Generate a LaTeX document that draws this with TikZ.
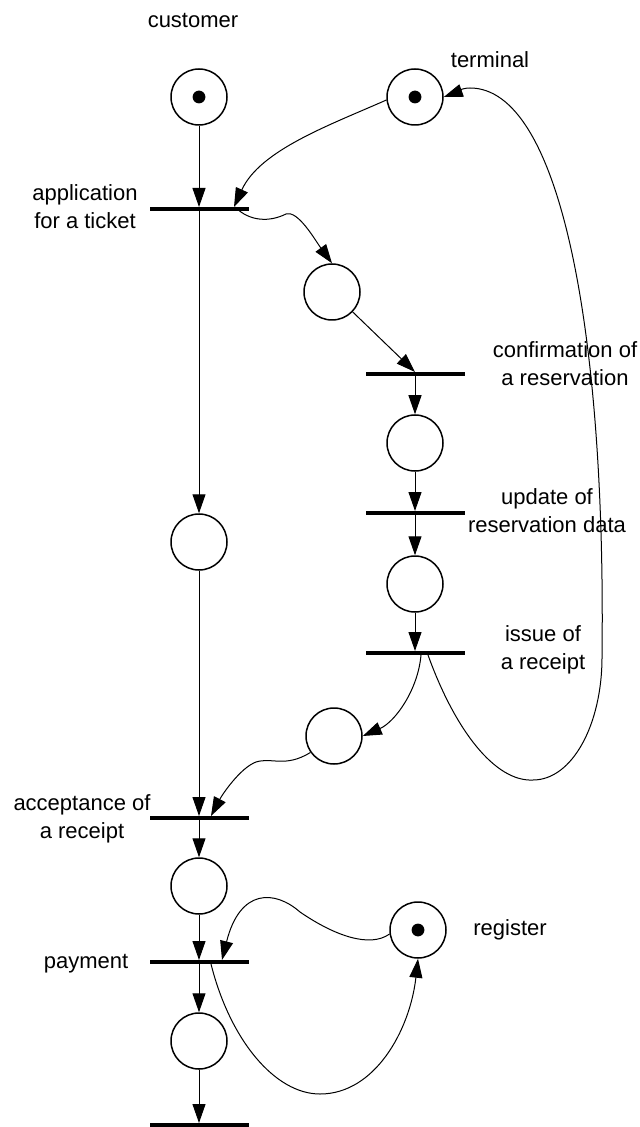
\documentclass[tikz,border=0pt]{standalone}
\usepackage{fontspec}
\setmainfont{Liberation Sans}
\usetikzlibrary{arrows.meta,calc}
\begin{document}
\begin{tikzpicture}[x=0.5pt,y=-0.5pt,
  pplace/.style={circle,draw,line width=0.75pt,minimum size=28pt,inner sep=0pt},
  ptoken/.style={path picture={\fill (path picture bounding box.center) circle (3.2pt);}},
  ptrans/.style={rectangle,fill=black,minimum width=49.5pt,minimum height=1.6pt,inner sep=0pt},
  lbl/.style={font=\fontsize{11}{14}\selectfont,align=center,inner sep=0pt},
  flow/.style={line width=0.5pt,-{Triangle[length=9.5pt,width=6.5pt]}},
]
\useasboundingbox (0,0) rectangle (639,1127);
% places and transitions
\node[pplace,ptoken] (cust) at (199,97) {};
\node[pplace,ptoken] (term) at (415,97) {};
\node[ptrans] (app) at (199,209) {};
\node[pplace] (p2) at (332,292) {};
\node[ptrans] (conf) at (415,374) {};
\node[pplace] (p3) at (415,443) {};
\node[ptrans] (upd) at (415,513) {};
\node[pplace] (p4) at (415,584) {};
\node[ptrans] (iss) at (415,653) {};
\node[pplace] (wait) at (199,542) {};
\node[pplace] (p5) at (334,736) {};
\node[ptrans] (acc) at (199,818) {};
\node[pplace] (p6) at (199,886) {};
\node[pplace,ptoken] (reg) at (418,930) {};
\node[ptrans] (pay) at (199,962) {};
\node[pplace] (p7) at (199,1041) {};
\node[ptrans] (fin) at (199,1125) {};
% labels
\node[lbl] (lcust) at (193,21) {customer};
\node[lbl] (lterm) at (490,60) {terminal};
\node[lbl] (lapp) at (85,207) {application\\for a ticket};
\node[lbl] (lconf) at (565,364) {confirmation of\\a reservation};
\node[lbl] (lupd) at (547,511) {update of\\reservation data};
\node[lbl] (liss) at (543,650) {issue of\\a receipt};
\node[lbl] (lacc) at (82,819) {acceptance of\\a receipt};
\node[lbl] (lpay) at (86,964) {payment};
\node[lbl] (lreg) at (510,930) {register};
% left column
\draw[flow] (cust) -- (app.north);
\draw[flow] (app.south) -- (wait);
\draw[flow] (wait) -- (acc.north);
\draw[flow] (acc.south) -- (p6);
\draw[flow] (p6) -- (pay.north);
\draw[flow] (pay.south) -- (p7);
\draw[flow] (p7) -- (fin.north);
% right column
\draw[flow] (p2) -- (conf.north);
\draw[flow] (conf.south) -- (p3);
\draw[flow] (p3) -- (upd.north);
\draw[flow] (upd.south) -- (p4);
\draw[flow] (p4) -- (iss.north);
% curved arcs
\draw[flow] (term.186) .. controls (330,125) and (260,150) .. ($(app.north)+(35,0)$);
\draw[flow] ($(app.north)+(36,0)$) .. controls (250,222) and (270,222) .. (286,214)
  .. controls (298,210) and (315,240) .. (p2.north);
\draw[flow] ($(iss.south)+(6,0)$) .. controls (418,690) and (395,722) .. (p5.east);
\draw[flow] ($(iss.south)+(13,0)$) .. controls (455,730) and (495,782) .. (533,780)
  .. controls (572,780) and (602,725) .. (602,657)
  .. controls (606,330) and (560,88) .. (470,88)
  .. controls (460,88) and (452,94) .. (term.east);
\draw[flow] (p5.215) .. controls (285,768) and (272,757) .. (256,762)
  .. controls (240,768) and (222,795) .. ($(acc.north)+(12,0)$);
\draw[flow] (reg.188) .. controls (370,948) and (335,936) .. (300,912)
  .. controls (275,890) and (240,888) .. ($(pay.north)+(23,0)$);
\draw[flow] ($(pay.south)+(12,0)$) .. controls (230,1040) and (275,1094) .. (320,1094)
  .. controls (375,1094) and (410,1030) .. (reg.south);
\end{tikzpicture}
\end{document}
